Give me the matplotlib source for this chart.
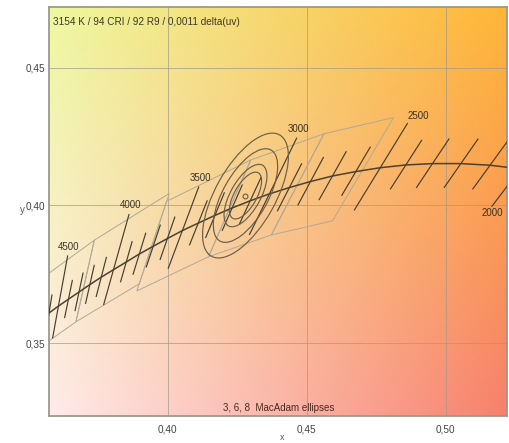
import numpy as np
import matplotlib
matplotlib.use('Agg')
import matplotlib.pyplot as plt
from matplotlib.patches import Ellipse, Polygon

plt.rcParams['font.family'] = ['Liberation Sans', 'DejaVu Sans']

# ---------------- data ----------------
title_text = "3154 K / 94 CRI / 92 R9 / 0,0011 delta(uv)"
footer_text = "3, 6, 8  MacAdam ellipses"

# Planckian locus (CIE 1931 xy), CCT in K
locus_T = [1900, 2000, 2100, 2200, 2300, 2400, 2500, 2600, 2700, 2800,
           2900, 3000, 3100, 3200, 3300, 3400, 3500, 3600, 3700, 3800,
           3900, 4000, 4100, 4200, 4300, 4400, 4500, 4600, 4700]
locus_x = [0.5381, 0.5269, 0.5160, 0.5055, 0.4953, 0.4857, 0.4765, 0.4677, 0.4593, 0.4514,
           0.4438, 0.4366, 0.4297, 0.4232, 0.4170, 0.4110, 0.4053, 0.3999, 0.3948, 0.3898,
           0.3851, 0.3805, 0.3761, 0.3720, 0.3681, 0.3643, 0.3607, 0.3573, 0.3540]
locus_y = [0.4111, 0.4133, 0.4146, 0.4152, 0.4152, 0.4147, 0.4137, 0.4123, 0.4107, 0.4087,
           0.4065, 0.4042, 0.4017, 0.3991, 0.3964, 0.3936, 0.3909, 0.3880, 0.3852, 0.3824,
           0.3795, 0.3767, 0.3740, 0.3713, 0.3686, 0.3660, 0.3635, 0.3610, 0.3586]

# isotherm ticks
iso_T = [2000, 2100, 2200, 2300, 2400, 2500, 2600, 2700, 2800, 2900, 3000,
         3100, 3200, 3300, 3400, 3500, 3600, 3700, 3800, 3900, 4000,
         4100, 4200, 4300, 4400, 4500, 4600, 4700]
tick_duv = (-0.0028, 0.0028)
# labelled isotherms
labeled_T = [2000, 2500, 3000, 3500, 4000, 4500]
labeled_lo = [-0.0045, -0.0050, -0.0050, -0.0050, -0.0050, -0.0050]
labeled_hi = [0.0030, 0.0050, 0.0065, 0.0055, 0.0075, 0.0075]
labeled_side = ['below', 'above', 'above', 'above', 'above', 'above']

# ANSI C78.377 quadrangles
quad_names = ['2700', '3000', '3500', '4000', '4500']
quad_x = [[0.4813, 0.4562, 0.4373, 0.4593],
          [0.4562, 0.4299, 0.4147, 0.4373],
          [0.4299, 0.3996, 0.3889, 0.4147],
          [0.4006, 0.3736, 0.3670, 0.3898],
          [0.3736, 0.3548, 0.3512, 0.3670]]
quad_y = [[0.4319, 0.4260, 0.3893, 0.3944],
          [0.4260, 0.4165, 0.3814, 0.3893],
          [0.4165, 0.4015, 0.3690, 0.3814],
          [0.4044, 0.3874, 0.3578, 0.3716],
          [0.3874, 0.3736, 0.3465, 0.3578]]

# measured point and MacAdam ellipses
point_x, point_y = 0.4280, 0.4036
ellipse_steps = [3, 4, 6, 8]
step_a, step_b, step_angle = 0.00315, 0.00135, 61.0

xticks = [0.40, 0.45, 0.50]
xtick_labels = ['0,40', '0,45', '0,50']
yticks = [0.35, 0.40, 0.45]
ytick_labels = ['0,35', '0,40', '0,45']
xlim = (0.3573, 0.5221)
ylim = (0.32373, 0.4719)

# ---------------- helpers ----------------
def xy_to_uv(x, y):
    d = -2 * x + 12 * y + 3
    return 4 * x / d, 6 * y / d

def uv_to_xy(u, v):
    d = 2 * u - 8 * v + 4
    return 3 * u / d, 2 * v / d

lx = np.array(locus_x)
ly = np.array(locus_y)
lu, lv = xy_to_uv(lx, ly)
du = np.gradient(lu)
dv = np.gradient(lv)
nrm = np.hypot(du, dv)
nu, nv = dv / nrm, -du / nrm  # normal pointing to +duv (above locus)

def iso_point(T, duv):
    i = locus_T.index(T)
    return uv_to_xy(lu[i] + nu[i] * duv, lv[i] + nv[i] * duv)

# ---------------- figure ----------------
fig = plt.figure(figsize=(5.10, 4.43), dpi=100)
fig.patch.set_facecolor('white')
ax = fig.add_axes([49 / 510, 1 - 415.7 / 443, 458 / 510, 408.4 / 443])

# background gradient
TL = np.array([238, 248, 160]) / 255
TR = np.array([255, 182, 55]) / 255
BL = np.array([255, 235, 234]) / 255
BR = np.array([247, 128, 108]) / 255
n = 200
s = np.linspace(0, 1, n)[None, :, None]
t = np.linspace(0, 1, n)[:, None, None]
top = TL * (1 - s) + TR * s
bot = BL * (1 - s) + BR * s
img = top * (1 - t) + bot * t
ax.imshow(img, extent=(xlim[0], xlim[1], ylim[0], ylim[1]), origin='upper',
          aspect='auto', zorder=0, interpolation='bilinear')

ax.set_xlim(*xlim)
ax.set_ylim(*ylim)
ax.set_xticks(xticks)
ax.set_xticklabels(xtick_labels)
ax.set_yticks(yticks)
ax.set_yticklabels(ytick_labels)
ax.tick_params(length=0, labelsize=7.2, colors='#444444')
ax.tick_params(axis='x', pad=6)
ax.tick_params(axis='y', pad=2.5)
ax.grid(True, color='#a09a88', lw=0.7, alpha=0.7, zorder=1)
for sp in ax.spines.values():
    sp.set_color('#9a9a8c')
    sp.set_linewidth(1.3)

# quadrangles
for qx, qy in zip(quad_x, quad_y):
    poly = Polygon(np.column_stack([qx, qy]), closed=True, fill=False,
                   edgecolor='#b0a996', lw=0.7, zorder=2)
    ax.add_patch(poly)

# locus
ax.plot(locus_x, locus_y, color='#4a4232', lw=1.1, zorder=4)

# isotherms
label_offsets = {2500: (8, 2)}
for T in iso_T:
    if T in labeled_T:
        k = labeled_T.index(T)
        lo, hi = labeled_lo[k], labeled_hi[k]
    else:
        lo, hi = tick_duv
    x0, y0 = iso_point(T, lo)
    x1, y1 = iso_point(T, hi)
    ax.plot([x0, x1], [y0, y1], color='#463f30', lw=0.85, zorder=4)
    if T in labeled_T:
        if labeled_side[k] == 'below':
            ax.annotate(str(T), (x0, y0), xytext=(0, -1.5), textcoords='offset points',
                        ha='center', va='top', fontsize=7, color='#3a3328', zorder=6)
        else:
            ax.annotate(str(T), (x1, y1), xytext=label_offsets.get(T, (1, 3)),
                        textcoords='offset points',
                        ha='center', va='bottom', fontsize=7, color='#3a3328', zorder=6)

# MacAdam ellipses
for st in ellipse_steps:
    e = Ellipse((point_x, point_y), 2 * step_a * st, 2 * step_b * st, angle=step_angle,
                fill=False, edgecolor='#6a5f4a', lw=0.85, zorder=5)
    ax.add_patch(e)
ax.plot([point_x], [point_y], marker='o', ms=3.5, mfc='none', mec='#6a5f4a', mew=0.8, zorder=6)

# texts
ax.text(0.009, 0.965, title_text, transform=ax.transAxes, fontsize=7.2,
        color='#3b3a25', ha='left', va='center', zorder=7)
ax.text(0.5007, 0.0196, footer_text, transform=ax.transAxes, fontsize=7,
        color='#4a2a20', ha='center', va='center', zorder=7)
fig.text(282 / 510, 1 - 437 / 443, 'x', fontsize=6.5, color='#555555', ha='center', va='center')
fig.text(22.5 / 510, 1 - 210 / 443, 'y', fontsize=7, color='#555555', ha='center', va='center')

fig.savefig('out.png', dpi=100)
